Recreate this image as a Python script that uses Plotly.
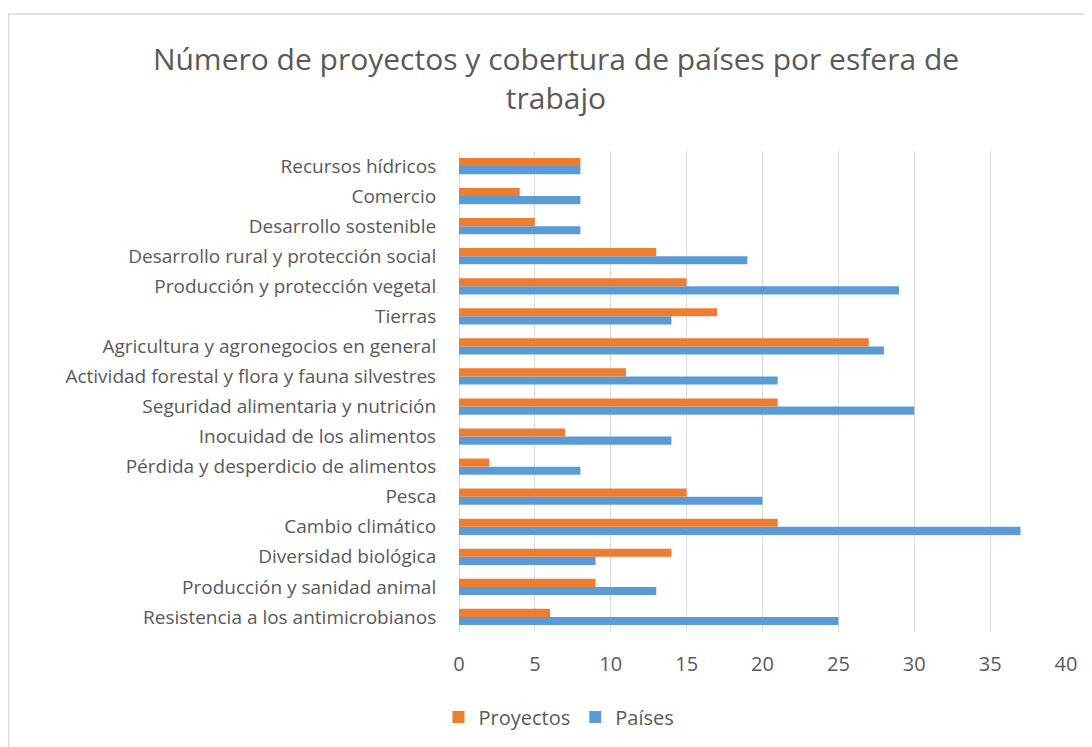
import plotly.graph_objects as go

categories = [
    "Resistencia a los antimicrobianos",
    "Producción y sanidad animal",
    "Diversidad biológica",
    "Cambio climático",
    "Pesca",
    "Pérdida y desperdicio de alimentos",
    "Inocuidad de los alimentos",
    "Seguridad alimentaria y nutrición",
    "Actividad forestal y flora y fauna silvestres",
    "Agricultura y agronegocios en general",
    "Tierras",
    "Producción y protección vegetal",
    "Desarrollo rural y protección social",
    "Desarrollo sostenible",
    "Comercio",
    "Recursos hídricos",
]
proyectos = [6, 9, 14, 21, 15, 2, 7, 21, 11, 27, 17, 15, 13, 5, 4, 8]
paises = [25, 13, 9, 37, 20, 8, 14, 30, 21, 28, 14, 29, 19, 8, 8, 8]
x_ticks = [0, 5, 10, 15, 20, 25, 30, 35, 40]

TXT = "#595959"
FONT = "Open Sans"

fig = go.Figure()
fig.add_trace(go.Bar(y=categories, x=paises, name="Países", orientation="h",
                     marker=dict(color="#5B9BD5", line=dict(width=0)), legendrank=2))
fig.add_trace(go.Bar(y=categories, x=proyectos, name="Proyectos", orientation="h",
                     marker=dict(color="#ED7D31", line=dict(width=0)), legendrank=1))

# page body has an 8px margin; work in reference-pixel coordinates
OFF = 8
W, H = 1092 - OFF, 747 - OFF
L, R, T, B = 459 - OFF, 1092 - 1066, 151 - OFF, 747 - 632
pw, ph = W - L - R, H - T - B


def px_x(p):
    return (p - OFF - L) / pw


def px_y(p):
    return (H - B - (p - OFF)) / ph


fig.update_layout(
    width=W, height=H,
    margin=dict(l=L, r=R, t=T, b=B, autoexpand=False),
    paper_bgcolor="white", plot_bgcolor="white",
    barmode="group", bargap=0.46, bargroupgap=0,
    font=dict(family=FONT, color=TXT, size=19),
    title=dict(text="Número de proyectos y cobertura de países por esfera de<br>trabajo",
               x=(556 - OFF) / W, xanchor="center", y=1 - (70 - OFF) / H, yanchor="middle",
               font=dict(family=FONT, size=30, color=TXT)),
    xaxis=dict(range=[0, 40], tickvals=x_ticks, showgrid=True, gridcolor="#D9D9D9",
               gridwidth=1, zeroline=True, zerolinecolor="#D9D9D9", zerolinewidth=1,
               showline=False, ticks="outside", ticklen=14, tickcolor="rgba(0,0,0,0)",
               tickfont=dict(size=20, color=TXT, family=FONT), fixedrange=True),
    yaxis=dict(type="category", showgrid=False, showline=False, zeroline=False,
               ticks="outside", ticklen=18, tickcolor="rgba(0,0,0,0)",
               tickfont=dict(size=19, color=TXT, family=FONT),
               range=[-0.5, len(categories) - 0.5]),
    legend=dict(orientation="h", x=px_x(559), xanchor="center", y=px_y(717), yanchor="middle",
                font=dict(size=20, color=TXT, family=FONT), itemwidth=30,
                bgcolor="rgba(0,0,0,0)"),
    showlegend=True,
    shapes=[dict(type="rect", xref="paper", yref="paper",
                 x0=px_x(8.5), x1=px_x(1100), y0=px_y(760), y1=px_y(14),
                 line=dict(color="#D9D9D9", width=1.5), fillcolor="rgba(0,0,0,0)", layer="below")],
)

fig.write_html("out.html")
